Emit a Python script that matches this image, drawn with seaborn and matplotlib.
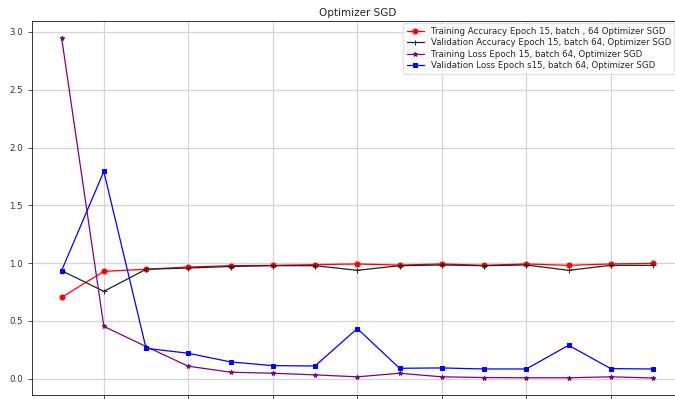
import matplotlib
matplotlib.use("Agg")
import matplotlib.pyplot as plt
import seaborn as sns
import pandas as pd

epochs = list(range(1, 16))

train_acc = [0.703, 0.928, 0.946, 0.966, 0.977, 0.980, 0.986, 0.992,
             0.982, 0.992, 0.980, 0.992, 0.980, 0.992, 0.997]
val_acc = [0.934, 0.755, 0.946, 0.957, 0.970, 0.977, 0.977, 0.937,
           0.977, 0.983, 0.977, 0.983, 0.937, 0.980, 0.980]
train_loss = [2.952, 0.452, 0.277, 0.107, 0.055, 0.046, 0.032, 0.015,
              0.046, 0.015, 0.009, 0.007, 0.007, 0.015, 0.005]
val_loss = [0.934, 1.793, 0.262, 0.219, 0.144, 0.112, 0.109, 0.433,
            0.089, 0.092, 0.083, 0.083, 0.288, 0.086, 0.083]

labels = [
    "Training Accuracy Epoch 15, batch , 64 Optimizer SGD",
    "Validation Accuracy Epoch 15, batch 64, Optimizer SGD",
    "Training Loss Epoch 15, batch 64, Optimizer SGD",
    "Validation Loss Epoch s15, batch 64, Optimizer SGD",
]
series = [train_acc, val_acc, train_loss, val_loss]
colors = ["red", "#222222", "purple", "blue"]
markers = ["o", "+", "*", "s"]
msizes = [3.6, 3.6, 3.2, 3.2]

sns.set_style("ticks")
plt.rcParams["font.family"] = ["DejaVu Sans"]
plt.rcParams["font.size"] = 6.25

fig = plt.figure(figsize=(6.75, 3.99), dpi=100)
ax = fig.add_axes([0.0474, 0.010, 0.9639, 0.9386])

for lab, vals, col, mk, ms in zip(labels, series, colors, markers, msizes):
    df = pd.DataFrame({"epoch": epochs, "value": vals})
    sns.lineplot(data=df, x="epoch", y="value", ax=ax, color=col,
                 marker=mk, markersize=ms, linewidth=0.9,
                 markeredgecolor=col, label=lab)

ax.grid(True, color="#d5d5d5", linewidth=0.9)
ax.set_xlabel("")
ax.set_ylabel("")
ax.set_title("Optimizer SGD", fontsize=7.5, pad=3)
ax.tick_params(labelsize=6.25, length=3, width=0.6, colors="#333333")
ax.tick_params(axis="x", labelbottom=False)
for s in ax.spines.values():
    s.set_color("#333333")
    s.set_linewidth(0.7)
ax.legend(loc="upper right", bbox_to_anchor=(0.999, 0.942),
          bbox_transform=fig.transFigure, borderaxespad=0.0,
          fontsize=6.2, frameon=True, framealpha=0.8,
          edgecolor="#dddddd", fancybox=True,
          handlelength=2.0, labelspacing=0.3)

fig.savefig("out.png", dpi=100)
